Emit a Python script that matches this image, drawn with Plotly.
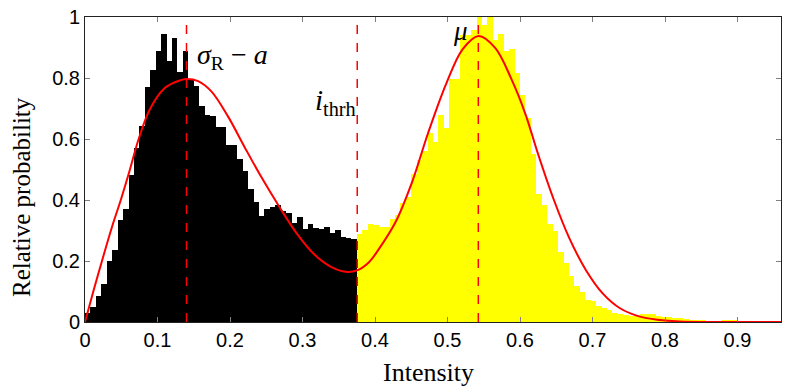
import plotly.graph_objects as go

# histogram: 128 bins of width 0.0075 from 0 to 0.96
bin_width = 0.0075
rel_prob = [
    0.030, 0.050, 0.084, 0.125, 0.200, 0.235, 0.335, 0.371, 0.483, 0.572,
    0.644, 0.770, 0.825, 0.887, 0.943, 0.855, 0.930, 0.820, 0.890, 0.795,
    0.775, 0.708, 0.680, 0.676, 0.641, 0.641, 0.580, 0.580, 0.536, 0.496,
    0.437, 0.393, 0.348, 0.370, 0.376, 0.384, 0.364, 0.357, 0.326, 0.343,
    0.305, 0.322, 0.307, 0.304, 0.310, 0.291, 0.302, 0.280, 0.277, 0.271,
    0.288, 0.302, 0.320, 0.318, 0.313, 0.312, 0.338, 0.350, 0.390, 0.410,
    0.484, 0.530, 0.560, 0.620, 0.590, 0.680, 0.635, 0.797, 0.797, 0.940,
    0.940, 0.957, 1.000, 0.975, 1.000, 0.923, 0.945, 0.890, 0.895, 0.817,
    0.745, 0.670, 0.550, 0.420, 0.385, 0.320, 0.297, 0.228, 0.192, 0.150,
    0.119, 0.100, 0.072, 0.070, 0.053, 0.046, 0.038, 0.031, 0.026, 0.022,
    0.020, 0.019, 0.026, 0.027, 0.026, 0.020, 0.017, 0.015, 0.013, 0.012,
    0.009, 0.004, 0.004, 0.004, 0.003, 0.003, 0.003, 0.008, 0.004, 0.004,
    0.0, 0.0, 0.0, 0.0, 0.0, 0.0, 0.0, 0.0,
]
thr_bin = 50  # bins below the threshold are black

# fitted curve
fit_x = [0, 0.012, 0.024, 0.037, 0.05, 0.062, 0.074, 0.09, 0.109, 0.125,
         0.14, 0.156, 0.174, 0.197, 0.22, 0.243, 0.268, 0.293, 0.316, 0.34,
         0.362, 0.376, 0.392, 0.405, 0.428, 0.451, 0.473, 0.498, 0.521, 0.543,
         0.566, 0.588, 0.607, 0.625, 0.646, 0.668, 0.691, 0.714, 0.738, 0.762,
         0.787, 0.82, 0.87, 0.92, 0.96]
fit_y = [0, 0.105, 0.205, 0.31, 0.405, 0.5, 0.6, 0.7, 0.765, 0.787,
         0.797, 0.79, 0.757, 0.675, 0.574, 0.476, 0.378, 0.287, 0.222, 0.18,
         0.164, 0.17, 0.197, 0.238, 0.326, 0.458, 0.618, 0.78, 0.895, 0.938,
         0.898, 0.797, 0.685, 0.55, 0.405, 0.275, 0.17, 0.094, 0.045, 0.02,
         0.008, 0.002, 0, 0, 0]

# dashed markers
sigma_a = 0.14
i_thrh = 0.3755
mu = 0.5425

x_ticks = [0, 0.1, 0.2, 0.3, 0.4, 0.5, 0.6, 0.7, 0.8, 0.9]
x_labels = ["0", "0.1", "0.2", "0.3", "0.4", "0.5", "0.6", "0.7", "0.8", "0.9"]
y_ticks = [0, 0.2, 0.4, 0.6, 0.8, 1]
y_labels = ["0", "0.2", "0.4", "0.6", "0.8", "1"]

colors = ["#000000" if i < thr_bin else "#ffff00" for i in range(len(rel_prob))]

fig = go.Figure()
fig.add_trace(go.Bar(
    x0=bin_width / 2, dx=bin_width, y=rel_prob,
    marker=dict(color=colors, line=dict(width=0)),
    width=bin_width, showlegend=False,
))
fig.add_trace(go.Scatter(
    x=fit_x, y=fit_y, mode="lines",
    line=dict(color="#ff0000", width=2, shape="spline", smoothing=1),
    showlegend=False,
))
for xv in [sigma_a, i_thrh, mu]:
    fig.add_trace(go.Scatter(
        x=[xv, xv], y=[0, 1], mode="lines",
        line=dict(color="#ff0000", width=1.5, dash="dash"),
        showlegend=False,
    ))

serif = "Liberation Serif, Times New Roman, serif"
fig.add_annotation(x=0.152, y=0.87, xanchor="left", yanchor="middle",
                   text="<i>σ</i><sub>R</sub> − <i>a</i>", showarrow=False,
                   font=dict(family=serif, size=28, color="black"))
fig.add_annotation(x=0.376, y=0.72, xanchor="right", yanchor="middle",
                   text="<i>i</i><sub>thrh</sub>", showarrow=False,
                   font=dict(family=serif, size=29, color="black"))
fig.add_annotation(x=0.531, y=0.955, xanchor="right", yanchor="middle",
                   text="<i>μ</i>", showarrow=False,
                   font=dict(family=serif, size=27, color="black"))

# axis titles placed by hand
fig.add_annotation(xref="paper", yref="paper", x=0.493, y=-0.164,
                   xanchor="center", yanchor="middle", text="Intensity",
                   showarrow=False, font=dict(family=serif, size=26, color="black"))
fig.add_annotation(xref="paper", yref="paper", x=-0.0905, y=0.41,
                   xanchor="center", yanchor="middle", text="Relative probability",
                   textangle=-90, showarrow=False,
                   font=dict(family=serif, size=25, color="black"))

axis_common = dict(
    showline=True, linecolor="#222222", linewidth=1, mirror="ticks",
    ticks="inside", ticklen=5, tickcolor="#808080",
    showgrid=False, zeroline=False, automargin=False,
    tickfont=dict(family="Liberation Sans, Arial, sans-serif", size=20, color="black"),
)
fig.update_xaxes(range=[0, 0.96], tickvals=x_ticks, ticktext=x_labels, **axis_common)
fig.update_yaxes(range=[0, 1], tickvals=y_ticks, ticktext=y_labels, **axis_common)

fig.update_layout(
    width=789, height=391,
    margin=dict(l=85, r=8, t=17, b=69),
    paper_bgcolor="white", plot_bgcolor="white",
    bargap=0,
)

# drop the page's default body margin so the figure sits at the top-left corner
fig.write_html("out.html", config={"displayModeBar": False},
               post_script="document.body.style.margin='0';")
